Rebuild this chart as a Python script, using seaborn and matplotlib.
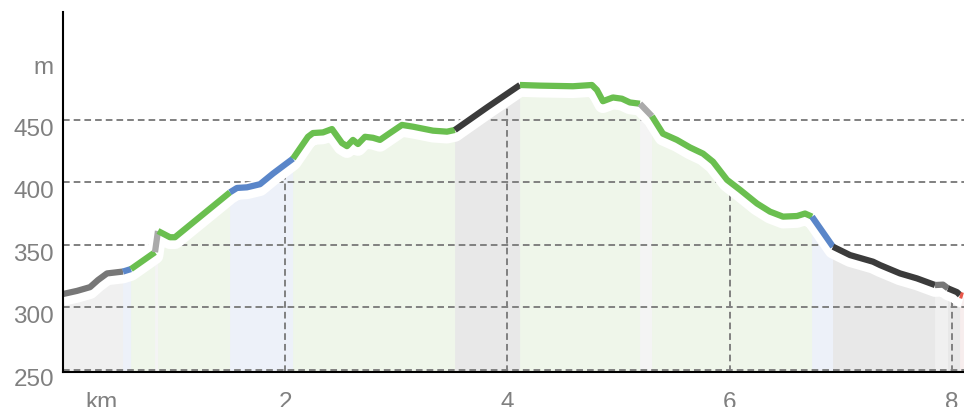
import numpy as np
import pandas as pd
import matplotlib
matplotlib.use("Agg")
import matplotlib.pyplot as plt
import matplotlib.transforms as mtransforms
import seaborn as sns

# ---------------- data ----------------
dist_km = [0.000, 0.126, 0.243, 0.315, 0.396, 0.540, 0.612, 0.828, 0.855, 0.963,
           1.008, 1.503, 1.566, 1.656, 1.773, 1.890, 2.070, 2.205, 2.250, 2.340,
           2.421, 2.511, 2.556, 2.610, 2.655, 2.718, 2.790, 2.853, 2.943, 3.051,
           3.150, 3.330, 3.456, 3.528, 3.816, 4.113, 4.293, 4.590, 4.761, 4.806,
           4.860, 4.950, 5.031, 5.103, 5.193, 5.301, 5.400, 5.526, 5.643, 5.761,
           5.851, 5.977, 6.094, 6.247, 6.364, 6.481, 6.607, 6.679, 6.742, 6.931,
           7.084, 7.291, 7.354, 7.534, 7.687, 7.849, 7.921, 7.966, 8.047, 8.074,
           8.101]
elev_m = [310.5, 313.0, 316.0, 321.7, 327.0, 328.5, 330.5, 344.0, 361.0, 356.0,
          356.0, 392.0, 395.5, 396.0, 398.5, 407.0, 419.0, 436.5, 439.5, 440.0,
          442.7, 431.5, 429.0, 434.0, 430.7, 436.5, 435.7, 434.0, 439.5, 446.0,
          444.6, 441.4, 440.6, 442.0, 460.0, 478.0, 477.5, 477.0, 478.0, 474.0,
          465.0, 468.0, 467.0, 464.0, 463.0, 453.0, 439.0, 434.0, 428.0, 423.0,
          416.5, 402.0, 394.0, 383.0, 376.5, 372.5, 373.0, 375.0, 372.5, 348.4,
          341.7, 336.4, 333.7, 327.0, 323.0, 317.7, 318.0, 315.0, 312.0, 309.7,
          309.0]
# surface type of consecutive stretches: (surface, number of intervals)
surface_runs = [("paved", 5), ("gravel", 1), ("ground", 1), ("unknown", 1),
                ("ground", 3), ("gravel", 5), ("ground", 17), ("asphalt", 2),
                ("ground", 9), ("unknown", 1), ("ground", 13), ("gravel", 1),
                ("asphalt", 6), ("paved", 2), ("asphalt", 2), ("other", 1)]

y_ticks = [250, 300, 350, 400, 450]
y_unit_label = "m"
y_unit_pos = 500
x_ticks = [2, 4, 6, 8]
x_unit_label = "km"
x_unit_pos = 0.35

# ---------------- styles ----------------
line_colors = {"paved": "#777777", "gravel": "#5a86c9", "ground": "#6abf4f",
               "unknown": "#aaaaaa", "asphalt": "#3b3b3b", "other": "#e8574a"}
fill_colors = {"paved": "#f0f0f0", "gravel": "#edf1f9", "ground": "#eff6ea",
               "unknown": "#f4f4f4", "asphalt": "#e8e8e8", "other": "#f7eded"}
text_color = "#808080"
grid_color = "#808080"

sns.set_theme(style="white")
plt.rcParams["font.family"] = ["Liberation Sans", "DejaVu Sans"]

df = pd.DataFrame({"km": dist_km, "m": elev_m})

fig = plt.figure(figsize=(9.64, 4.07), dpi=100)
ax = fig.add_axes([63 / 964, 1 - 372 / 407, 1 - 63 / 964, (372 - 12) / 407])
ymin, ymax = 248.0, 536.5
xmin, xmax = 0.0, 8.11
ax.set_xlim(xmin, xmax)
ax.set_ylim(ymin, ymax)

# segments
start = 0
segments = []
for surf, n in surface_runs:
    segments.append((surf, start, start + n))
    start += n

for surf, i0, i1 in segments:
    seg = df.iloc[i0:i1 + 1]
    ax.fill_between(seg["km"], ymin, seg["m"], color=fill_colors[surf],
                    lw=0.6, edgecolor=fill_colors[surf], zorder=1)

# grid
lw_grid = 1.4
dash = (0, (4.8 / lw_grid, 2.9 / lw_grid))
ax.hlines(y_ticks, xmin, xmax, colors=grid_color, linestyles=[dash],
          lw=lw_grid, zorder=2)
ax.vlines(x_ticks, ymin, np.interp(x_ticks, dist_km, elev_m), colors=grid_color,
          linestyles=[dash], lw=lw_grid, zorder=2)

# white halo below the line
halo_trans = ax.transData + mtransforms.ScaledTranslation(0, -3.5 / 100, fig.dpi_scale_trans)
ax.plot(df["km"], df["m"], color="white", lw=12, transform=halo_trans,
        solid_capstyle="butt", solid_joinstyle="round", zorder=3)

for surf, i0, i1 in segments:
    seg = df.iloc[i0:i1 + 1]
    sns.lineplot(data=seg, x="km", y="m", ax=ax, color=line_colors[surf],
                 lw=4.5, sort=False, estimator=None, zorder=4,
                 solid_capstyle="butt", solid_joinstyle="round")

ax.set_xlabel("")
ax.set_ylabel("")
ax.set_xticks([])
ax.set_yticks([])
for s in ["top", "right"]:
    ax.spines[s].set_visible(False)
for s in ["left", "bottom"]:
    ax.spines[s].set_color("black")
    ax.spines[s].set_linewidth(1.5)
    ax.spines[s].set_zorder(5)

fs = 17.5
ytrans = mtransforms.blended_transform_factory(ax.transAxes, ax.transData) + \
    mtransforms.ScaledTranslation(-9 / 100, -16 / 100, fig.dpi_scale_trans)
for t in y_ticks:
    ax.text(0, t, str(t), transform=ytrans, ha="right", va="baseline",
            fontsize=fs, color=text_color)
ax.text(0, y_unit_pos, y_unit_label, transform=ytrans, ha="right", va="baseline",
        fontsize=fs, color=text_color)

xtrans = mtransforms.blended_transform_factory(ax.transData, ax.transAxes) + \
    mtransforms.ScaledTranslation(0, -37 / 100, fig.dpi_scale_trans)
for t in x_ticks:
    ax.text(t, 0, str(t), transform=xtrans, ha="center", va="baseline",
            fontsize=fs, color=text_color, clip_on=False)
ax.text(x_unit_pos, 0, x_unit_label, transform=xtrans, ha="center", va="baseline",
        fontsize=fs, color=text_color, clip_on=False)

fig.savefig("out.png", dpi=100)
